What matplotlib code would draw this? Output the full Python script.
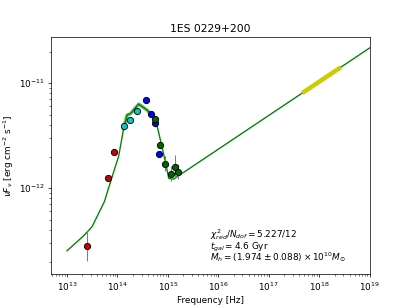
import numpy as np
import matplotlib
matplotlib.use("Agg")
import matplotlib.pyplot as plt

# observed points (log10 nu, log10 nuFnu, error in dex)
red_x = [13.397, 13.806, 13.938]
red_y = [-12.552, -11.908, -11.657]
red_e = [0.14, 0.02, 0.02]

cyan_x = [14.137, 14.256, 14.381]
cyan_y = [-11.407, -11.352, -11.267]
cyan_e = [0.02, 0.02, 0.02]

blue_x = [14.573, 14.667, 14.738, 14.831]
blue_y = [-11.162, -11.295, -11.384, -11.673]
blue_e = [0.02, 0.03, 0.03, 0.03]

green_x = [14.738, 14.837, 14.937, 15.063, 15.135, 15.194]
green_y = [-11.346, -11.590, -11.768, -11.864, -11.797, -11.845]
green_e = [0.03, 0.03, 0.07, 0.07, 0.11, 0.07]

# model curve
model_x = [13.0, 13.33, 13.496, 13.74, 13.825, 14.024, 14.123, 14.19, 14.26, 14.42,
           14.587, 14.752, 14.851, 14.95, 15.016, 15.115, 15.181, 19.0]
model_y = [-12.597, -12.454, -12.368, -12.13, -11.997, -11.695, -11.432, -11.305,
           -11.29, -11.2, -11.257, -11.337, -11.543, -11.75, -11.908, -11.914,
           -11.892, -10.664]

# X-ray band
xray_x = [17.663, 18.423]

fig, ax = plt.subplots(figsize=(6.4, 4.8), dpi=64.2)

mx = 10 ** np.array(model_x)
my = 10 ** np.array(model_y)
ax.plot(mx, my, color="green", lw=1.5, zorder=2)
band = (np.array(model_x) > 14.1) & (np.array(model_x) < 14.8)
ax.plot(mx[band], my[band], color="green", lw=4, alpha=0.5, zorder=2)

xr = 10 ** np.array(xray_x)
xr_y = 10 ** np.interp(xray_x, model_x, model_y)
ax.plot(xr, xr_y, color="#cccc00", lw=5, solid_capstyle="butt", zorder=3)

for xs, ys, es, c in [(red_x, red_y, red_e, "#cc0000"),
                      (cyan_x, cyan_y, cyan_e, "#00cccc"),
                      (blue_x, blue_y, blue_e, "#0000ff"),
                      (green_x, green_y, green_e, "#006600")]:
    xs = np.array(xs)
    ys = np.array(ys)
    es = np.array(es)
    yv = 10 ** ys
    lo = yv - 10 ** (ys - es)
    hi = 10 ** (ys + es) - yv
    ax.errorbar(10 ** xs, yv, yerr=[lo, hi], fmt="o", color=c, mec="black",
                mew=1, ms=7, ecolor="gray", elinewidth=1.2, zorder=4)

ax.set_xscale("log")
ax.set_yscale("log")
ax.set_xlim(10 ** 12.69, 1e19)
ax.set_ylim(10 ** -12.819, 10 ** -10.559)
ax.set_xticks([10.0 ** k for k in range(13, 20)])

ax.set_title("1ES 0229+200")
ax.set_xlabel("Frequency [Hz]")
ax.set_ylabel(r"$\nu F_\nu$ [erg cm$^{-2}$ s$^{-1}$]")

ax.text(0.498, 0.156, r"$\chi^2_{red}/N_{dof} = 5.227/12$", transform=ax.transAxes)
ax.text(0.498, 0.106, r"$t_{gal} = 4.6$ Gyr", transform=ax.transAxes)
ax.text(0.498, 0.056, r"$M_h = (1.974 \pm 0.088) \times 10^{10} M_{\odot}$", transform=ax.transAxes)

fig.savefig("out.png", dpi=64.2)
